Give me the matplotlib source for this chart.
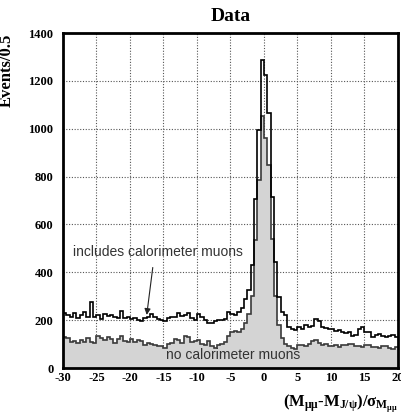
import numpy as np
import matplotlib.pyplot as plt

# histogram binning: 100 bins of 0.5 between -30 and 20
edges = np.linspace(-30, 20, 101)

# events per bin, all muons (includes calorimeter muons)
with_calo = [228, 222, 215, 230, 210, 220, 234, 212, 277, 215,
             220, 205, 225, 218, 222, 212, 210, 240, 210, 212,
             205, 208, 200, 195, 208, 215, 225, 212, 205, 200,
             196, 208, 215, 212, 230, 218, 222, 230, 210, 200,
             225, 215, 201, 187, 190, 195, 200, 200, 205, 235,
             225, 222, 232, 250, 290, 326, 431, 706, 993, 1289,
             1226, 1065, 714, 445, 298, 236, 222, 170, 165, 160,
             170, 165, 180, 172, 175, 205, 195, 170, 168, 165,
             162, 155, 158, 150, 148, 152, 135, 140, 165, 170,
             150, 152, 130, 140, 142, 135, 128, 135, 140, 130]

# events per bin, no calorimeter muons
no_calo = [130, 125, 110, 112, 105, 115, 108, 125, 110, 105,
           135, 125, 118, 128, 120, 105, 122, 132, 112, 110,
           120, 108, 118, 112, 98, 105, 100, 95, 92, 90,
           82, 100, 105, 120, 118, 105, 132, 130, 110, 112,
           115, 100, 98, 112, 92, 85, 95, 102, 108, 135,
           150, 155, 150, 165, 190, 225, 300, 536, 784, 1054,
           962, 849, 540, 300, 180, 125, 100, 90, 82, 80,
           95, 98, 92, 100, 112, 115, 105, 98, 100, 92,
           90, 95, 88, 98, 96, 100, 102, 90, 92, 88,
           96, 95, 86, 88, 82, 90, 92, 85, 80, 88]

x_ticks = [-30, -25, -20, -15, -10, -5, 0, 5, 10, 15, 20]
y_ticks = [0, 200, 400, 600, 800, 1000, 1200, 1400]

serif = "Liberation Serif"
sans = "Liberation Sans"

# bold serif for the math in the axis title
plt.rcParams["mathtext.fontset"] = "custom"
plt.rcParams["mathtext.rm"] = "Liberation Serif:bold"
plt.rcParams["mathtext.it"] = "Liberation Serif:bold"
plt.rcParams["mathtext.bf"] = "Liberation Serif:bold"

fig = plt.figure(figsize=(4.02, 4.19), dpi=100)
ax = fig.add_axes([0.1567, 0.1217, 0.8333, 0.7995])

ax.stairs(no_calo, edges, fill=True, facecolor="#d4d4d4", edgecolor="none", zorder=2)
ax.stairs(no_calo, edges, baseline=None, color="#3a3a3a", lw=1.2, zorder=3)
ax.stairs(with_calo, edges, baseline=None, color="black", lw=1.2, zorder=4)

ax.set_xlim(-30, 20)
ax.set_ylim(0, 1400)
ax.set_xticks(x_ticks)
ax.set_yticks(y_ticks)
ax.set_xticklabels([str(t) for t in x_ticks], fontfamily=serif, fontweight="bold", fontsize=9)
ax.set_yticklabels([str(t) for t in y_ticks], fontfamily=serif, fontweight="bold", fontsize=9)
ax.tick_params(direction="in", length=0)
ax.tick_params(axis="x", pad=3)
ax.tick_params(axis="y", pad=7)
ax.grid(True, linestyle=(0, (1, 1.5)), color="#555555", lw=0.8, zorder=1)
ax.set_axisbelow(True)
for sp in ax.spines.values():
    sp.set_linewidth(2.0)
    sp.set_zorder(6)

ax.set_title("Data", fontfamily=serif, fontweight="bold", fontsize=14, pad=9)
ax.set_ylabel("Events/0.5", fontfamily=serif, fontweight="bold", fontsize=12)
ax.yaxis.set_label_coords(-0.143, 0.89)
fig.text(0.99, 0.01, r"$(M_{\mu\mu}\text{-}M_{J/\psi})/\sigma_{M_{\mu\mu}}$",
         ha="right", va="bottom", fontsize=12)

ax.text(-15.9, 485, "includes calorimeter muons", ha="center", va="center",
        family=sans, fontsize=10, color="#333333", zorder=5)
ax.annotate("", xy=(-17.5, 222), xytext=(-16.6, 420),
            arrowprops=dict(arrowstyle="-|>", color="#222222", lw=0.8,
                            mutation_scale=9, shrinkA=0, shrinkB=0), zorder=5)
ax.text(-4.6, 54, "no calorimeter muons", ha="center", va="center",
        family=sans, fontsize=10, color="#333333", zorder=5)

fig.savefig("out.png", dpi=100)
